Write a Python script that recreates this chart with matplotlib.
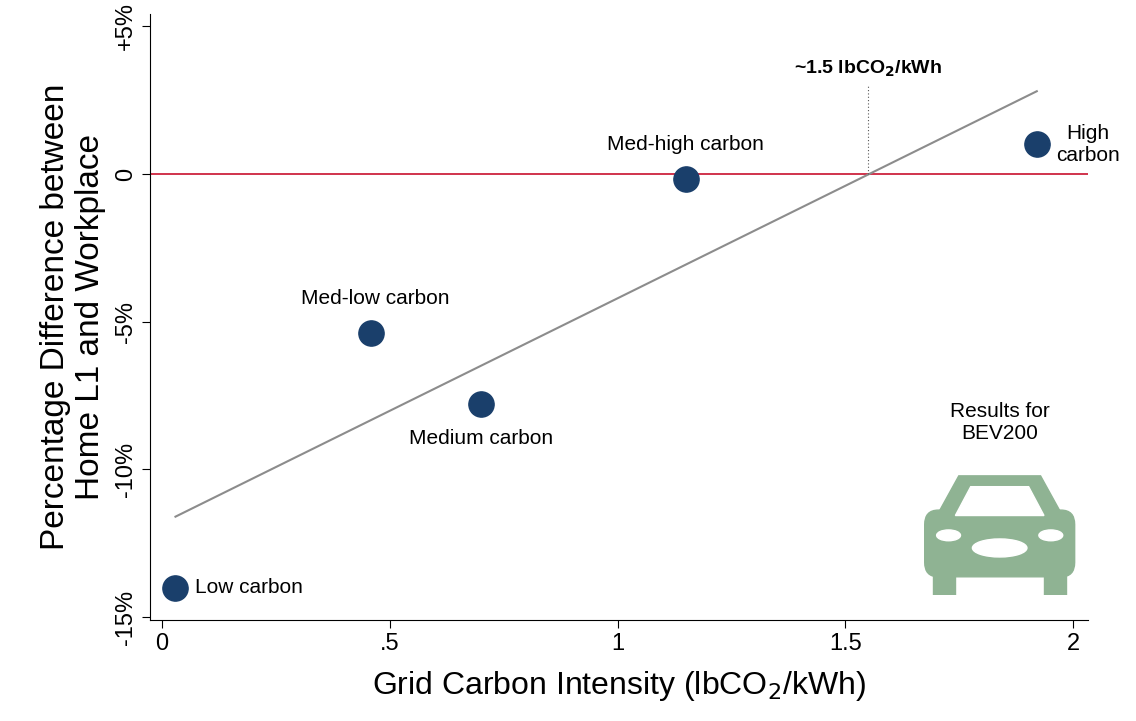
import matplotlib
matplotlib.use("Agg")
import matplotlib.pyplot as plt
from matplotlib.patches import FancyBboxPatch, Ellipse, Polygon, Rectangle

labels = ["Low carbon", "Med-low carbon", "Medium carbon", "Med-high carbon", "High\ncarbon"]
x_vals = [0.03, 0.46, 0.70, 1.15, 1.92]
y_vals = [-14.0, -5.4, -7.8, -0.17, 1.0]
fit_x = [0.03, 1.92]
fit_y = [-11.6, 2.8]
xticks = [0, 0.5, 1, 1.5, 2]
xticklabels = ["0", ".5", "1", "1.5", "2"]
yticks = [-15, -10, -5, 0, 5]
yticklabels = ["-15%", "-10%", "-5%", "0", "+5%"]

plt.rcParams['font.family'] = ['Liberation Sans', 'DejaVu Sans']
fig = plt.figure(figsize=(11.36, 7.21), dpi=100)
ax = fig.add_axes([0.132, 0.14, 0.826, 0.84])
ax.set_xlim(-0.026, 2.033)
ax.set_ylim(-15.1, 5.4)
ax.axhline(0, color="#c8102e", lw=1.2, zorder=1)
ax.plot(fit_x, fit_y, color="#8c8c8c", lw=1.5, zorder=2)
ax.plot([1.55, 1.55], [0, 3.0], color="#555555", lw=0.8, ls=(0, (1, 2)))
ax.text(1.55, 3.2, "~1.5 lbCO$_\\mathbf{2}$/kWh", ha="center", va="bottom", fontsize=14, fontweight="bold")
ax.scatter(x_vals, y_vals, s=330, color="#1a3f6b", zorder=3)
offs = [(14, 0, "left", "center"), (3, 18, "center", "bottom"), (0, -18, "center", "top"),
        (0, 18, "center", "bottom"), (14, 0, "left", "center")]
for lab, x, y, (dx, dy, ha, va) in zip(labels, x_vals, y_vals, offs):
    ma = "center" if "\n" in lab else "left"
    ax.annotate(lab, (x, y), xytext=(dx, dy), textcoords="offset points", ha=ha, va=va,
                fontsize=15, multialignment=ma)

ax.set_xticks(xticks)
ax.set_xticklabels(xticklabels, fontsize=17)
ax.set_yticks(yticks)
ax.set_yticklabels(yticklabels, fontsize=17, rotation=90, va="center")
ax.tick_params(length=6, direction="out")
for s in ["top", "right"]:
    ax.spines[s].set_visible(False)
ax.set_xlabel("Grid Carbon Intensity (lbCO$_2$/kWh)", fontsize=23, labelpad=10)
ax.set_ylabel("Percentage Difference between\nHome L1 and Workplace", fontsize=24, labelpad=6)

c = "#8fb393"
cax = fig.add_axes([0.805, 0.175, 0.15, 0.2])
cax.set_xlim(0, 10); cax.set_ylim(0, 8); cax.axis("off")
cax.add_patch(Polygon([[1.2, 4.2], [2.6, 6.6], [7.4, 6.6], [8.8, 4.2]], color=c))
cax.add_patch(FancyBboxPatch((0.8, 1.2), 8.4, 3.3, boxstyle="round,pad=0.2,rounding_size=0.8", color=c))
cax.add_patch(Rectangle((1.1, 0.0), 1.3, 1.5, color=c))
cax.add_patch(Rectangle((7.6, 0.0), 1.3, 1.5, color=c))
cax.add_patch(Polygon([[2.4, 4.4], [3.3, 6.0], [6.7, 6.0], [7.6, 4.4]], color="white"))
cax.add_patch(Ellipse((5, 2.6), 3.2, 1.0, color="white"))
cax.add_patch(Ellipse((2.0, 3.3), 1.4, 0.6, color="white"))
cax.add_patch(Ellipse((8.0, 3.3), 1.4, 0.6, color="white"))
fig.text(0.88, 0.385, "Results for\nBEV200", ha="center", va="bottom", fontsize=15)
fig.savefig("out.png", dpi=100)
